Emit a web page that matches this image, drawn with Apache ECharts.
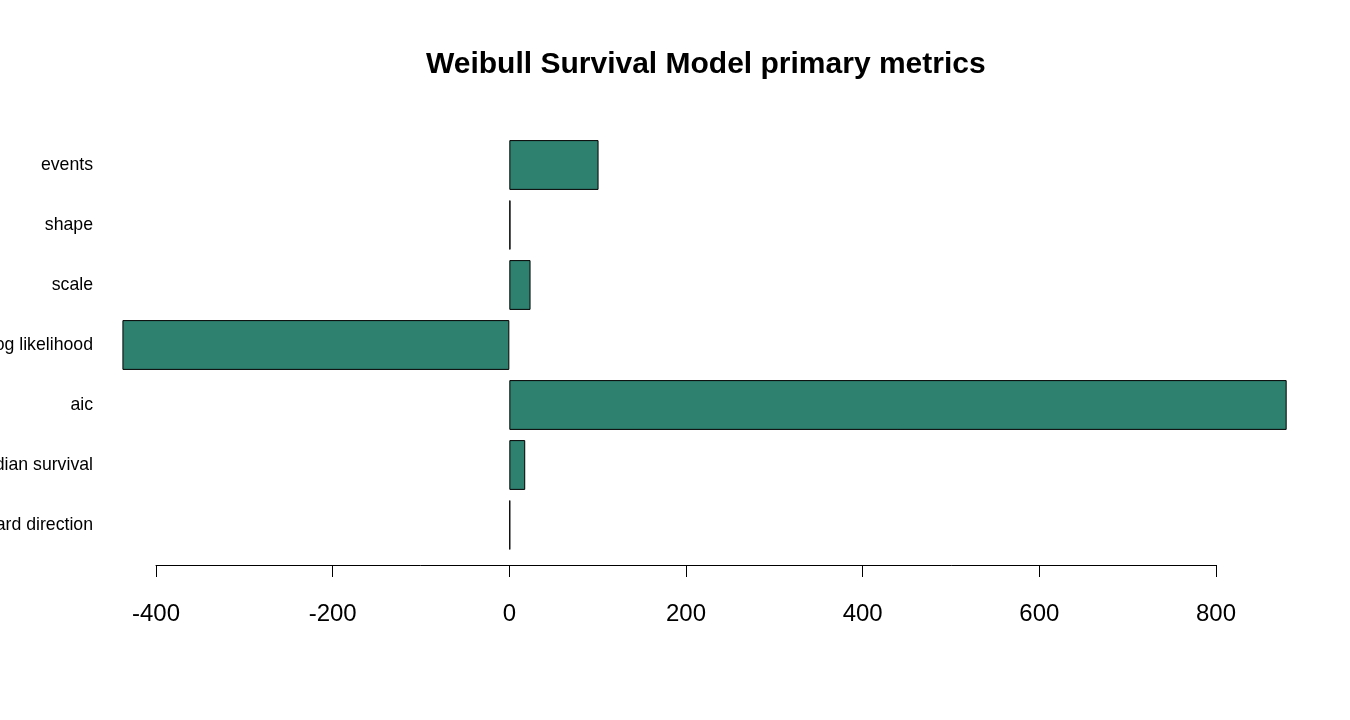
<!DOCTYPE html>
<html>
<head>
<meta charset="utf-8">
<script src="https://cdn.jsdelivr.net/npm/echarts@6/dist/echarts.min.js"></script>
<style>
  html, body { margin: 0; padding: 0; background: #fff; }
  #main { width: 1350px; height: 720px; }
</style>
</head>
<body>
<div id="main"></div>
<script>
// metrics, top to bottom
var metricNames = ['events', 'shape', 'scale', 'log likelihood', 'aic', 'median survival', 'hazard direction'];
var metricValues = [101, 1.3, 24, -438, 880, 18, 1];
var tickMin = -400, tickMax = 800, tickStep = 200;

var myChart = echarts.init(document.getElementById('main'));

var option = {
	backgroundColor: '#ffffff',
	animation: false,
	// R centres the title over the plot region, not the page
	title: {
		text: 'Weibull Survival Model primary metrics',
		left: 421,
		top: 45,
		textStyle: { fontFamily: 'Liberation Sans', fontSize: 30, fontWeight: 'bold', color: '#000' }
	},
	// grid spans the tick range only, like R's axis(); bars outside it are not clipped
	grid: { left: 156, right: 134, top: 135, height: 420, outerBoundsMode: 'none', containLabel: false },
	xAxis: {
		type: 'value',
		min: tickMin,
		max: tickMax,
		interval: tickStep,
		offset: 10,
		splitLine: { show: false },
		axisLine: { show: true, lineStyle: { color: '#000', width: 1 } },
		axisTick: { show: true, inside: false, length: 12, lineStyle: { color: '#000', width: 1 } },
		axisLabel: { color: '#000', fontFamily: 'Liberation Sans', fontSize: 24, margin: 37 }
	},
	yAxis: {
		type: 'category',
		data: metricNames,
		inverse: true,
		axisLine: { show: false },
		axisTick: { show: false },
		axisLabel: { color: '#000', fontFamily: 'Liberation Sans', fontSize: 17.7, margin: 63 }
	},
	series: [{
		type: 'bar',
		data: metricValues,
		clip: false,
		barCategoryGap: '17%',
		itemStyle: { color: '#2e806f', borderColor: '#000', borderWidth: 1 }
	}]
};

myChart.setOption(option);
</script>
</body>
</html>
